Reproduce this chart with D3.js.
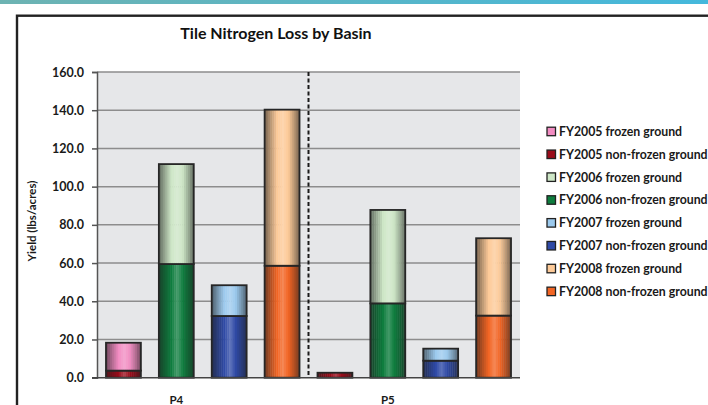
<!DOCTYPE html>
<html>
<head>
<meta charset="utf-8">
<script src="https://cdn.jsdelivr.net/npm/d3@7"></script>
<style>
  html, body { margin: 0; padding: 0; background: #ffffff; }
  svg { display: block; font-family: Lato, "DejaVu Sans", sans-serif; }
</style>
</head>
<body>
<svg id="chart" width="708" height="405"></svg>
<script>
// Tile nitrogen yield (lbs/acre) per basin and fiscal year, split by ground state
const basins = ["P4", "P5"];
const years = ["FY2005", "FY2006", "FY2007", "FY2008"];
const nonFrozenP4 = [3.7, 59.5, 32.3, 58.6];
const frozenP4 = [14.6, 52.3, 16.1, 81.7];
const nonFrozenP5 = [2.6, 38.9, 8.9, 32.5];
const frozenP5 = [0.0, 48.9, 6.3, 40.5];
const yTicks = [0, 20, 40, 60, 80, 100, 120, 140, 160];

// fill colours per year: [frozen, non-frozen]
const frozenColors = ["#f28cc2", "#cde6c6", "#9ccaee", "#fdca98"];
const nonFrozenColors = ["#9a0c1a", "#0e7d3e", "#2f4aa6", "#f26524"];

const rows = [];
basins.forEach((b, bi) => {
  const nf = bi === 0 ? nonFrozenP4 : nonFrozenP5;
  const fr = bi === 0 ? frozenP4 : frozenP5;
  years.forEach((y, yi) => {
    rows.push({ key: b + "-" + y, basin: b, year: y, yi, nonFrozen: nf[yi], frozen: fr[yi] });
  });
});

const svg = d3.select("#chart");
const defs = svg.append("defs");

// header band
const band = defs.append("linearGradient").attr("id", "band").attr("x1", "0").attr("x2", "1");
band.append("stop").attr("offset", "0").attr("stop-color", "#6db3b2");
band.append("stop").attr("offset", "1").attr("stop-color", "#44b8dc");
svg.append("rect").attr("x", 0).attr("y", 0).attr("width", 708).attr("height", 4).attr("fill", "url(#band)");

// chart frame
svg.append("rect").attr("x", 17).attr("y", 15.7).attr("width", 720).attr("height", 420)
  .attr("fill", "#ffffff").attr("stroke", "#222222").attr("stroke-width", 2.4);

const plot = { left: 97, right: 520, top: 72, bottom: 377.7 };

const x = d3.scaleBand().domain(rows.map(d => d.key))
  .range([plot.left, plot.right]).paddingInner(0.34).paddingOuter(0.17);
const y = d3.scaleLinear().domain([0, 160]).range([plot.bottom, plot.top]);

// plot area
svg.append("rect").attr("x", plot.left).attr("y", plot.top)
  .attr("width", plot.right - plot.left).attr("height", plot.bottom - plot.top)
  .attr("fill", "#e6e7e9");

// gridlines
svg.append("g").selectAll("line").data(yTicks.filter(t => t > 0)).join("line")
  .attr("x1", plot.left).attr("x2", plot.right)
  .attr("y1", d => y(d)).attr("y2", d => y(d))
  .attr("stroke", "#8d8d8d").attr("stroke-width", 1.5);

// y axis
const yAxis = d3.axisLeft(y).tickValues(yTicks).tickFormat(d3.format(".1f")).tickSize(5).tickPadding(8);
const ya = svg.append("g").attr("transform", `translate(${plot.left},0)`).call(yAxis);
ya.select(".domain").attr("stroke", "#555").attr("stroke-width", 1.5);
ya.selectAll(".tick line").attr("stroke", "#555").attr("stroke-width", 1.5);
ya.selectAll(".tick text").attr("fill", "#1a1a1a").attr("font-size", 12.5).attr("font-weight", 700)
  .attr("font-family", "Lato, sans-serif");

// y axis title
svg.append("text").attr("transform", `translate(35.5,221) rotate(-90)`)
  .attr("text-anchor", "middle").attr("font-size", 11.5).attr("font-weight", 700).attr("fill", "#1a1a1a")
  .text("Yield (lbs/acres)");

// basin divider
const divX = (x(basins[0] + "-" + years[3]) + x.bandwidth() + x(basins[1] + "-" + years[0])) / 2;
svg.append("line").attr("x1", divX).attr("x2", divX).attr("y1", plot.top).attr("y2", plot.bottom)
  .attr("stroke", "#1a1a1a").attr("stroke-width", 2).attr("stroke-dasharray", "4,2.5");

// horizontal cylinder shading: darker towards both edges, a highlight left of centre
const shadeProfile = d3.scaleLinear()
  .domain([0, 0.18, 0.36, 0.52, 0.68, 0.85, 1])
  .range([-0.62, -0.3, 0, 0.22, 0, -0.3, -0.6]).clamp(true);
function shadeColor(base, t) {
  const s = shadeProfile(t);
  return s < 0 ? d3.interpolateRgb(base, "#1e1e1e")(-s) : d3.interpolateRgb(base, "#ffffff")(s);
}
const STRIPS = 18;
const stripIdx = d3.range(STRIPS);

// stacked segments: non-frozen at the base, frozen above
const segments = [];
rows.forEach(d => {
  segments.push({ key: d.key, y0: 0, y1: d.nonFrozen, color: nonFrozenColors[d.yi] });
  if (d.frozen > 0) segments.push({ key: d.key, y0: d.nonFrozen, y1: d.nonFrozen + d.frozen, color: frozenColors[d.yi] });
});

const seg = svg.append("g").selectAll("g").data(segments).join("g");
const sw = x.bandwidth() / STRIPS;
seg.selectAll("rect.strip").data(d => stripIdx.map(i => ({ i, d }))).join("rect")
  .attr("class", "strip")
  .attr("x", s => x(s.d.key) + s.i * sw)
  .attr("width", s => sw + (s.i < STRIPS - 1 ? 0.4 : 0))
  .attr("y", s => y(s.d.y1)).attr("height", s => y(s.d.y0) - y(s.d.y1))
  .attr("fill", s => shadeColor(s.d.color, (s.i + 0.5) / STRIPS));
seg.append("rect")
  .attr("x", d => x(d.key)).attr("width", x.bandwidth())
  .attr("y", d => y(d.y1)).attr("height", d => y(d.y0) - y(d.y1))
  .attr("fill", "none").attr("stroke", "#262626").attr("stroke-width", 1.8);

// x axis line
svg.append("line").attr("x1", plot.left - 5).attr("x2", plot.right)
  .attr("y1", plot.bottom).attr("y2", plot.bottom).attr("stroke", "#444").attr("stroke-width", 1.5);

// basin labels under the second bar of each group
svg.append("g").selectAll("text").data(basins).join("text")
  .attr("x", b => x(b + "-" + years[1]) + x.bandwidth() / 2)
  .attr("y", 404).attr("text-anchor", "middle")
  .attr("font-size", 11.5).attr("font-weight", 700).attr("fill", "#1a1a1a")
  .text(b => b);

// title
svg.append("text").attr("x", 276).attr("y", 39).attr("text-anchor", "middle")
  .attr("font-size", 16).attr("font-weight", 700).attr("fill", "#111")
  .text("Tile Nitrogen Loss by Basin");

// legend
const legendItems = [];
years.forEach((yr, i) => {
  legendItems.push({ label: yr + " frozen ground", color: frozenColors[i] });
  legendItems.push({ label: yr + " non-frozen ground", color: nonFrozenColors[i] });
});
const lg = svg.append("g").selectAll("g").data(legendItems).join("g")
  .attr("transform", (d, i) => `translate(547,${131.7 + i * 22.85})`);
lg.append("rect").attr("x", 0).attr("y", -4.5).attr("width", 8.5).attr("height", 8.5)
  .attr("fill", d => d.color).attr("stroke", "#222").attr("stroke-width", 1.3);
lg.append("text").attr("x", 12).attr("y", 4.2)
  .attr("font-size", 12.3).attr("font-weight", 700).attr("fill", "#1a1a1a")
  .text(d => d.label);
</script>
</body>
</html>
